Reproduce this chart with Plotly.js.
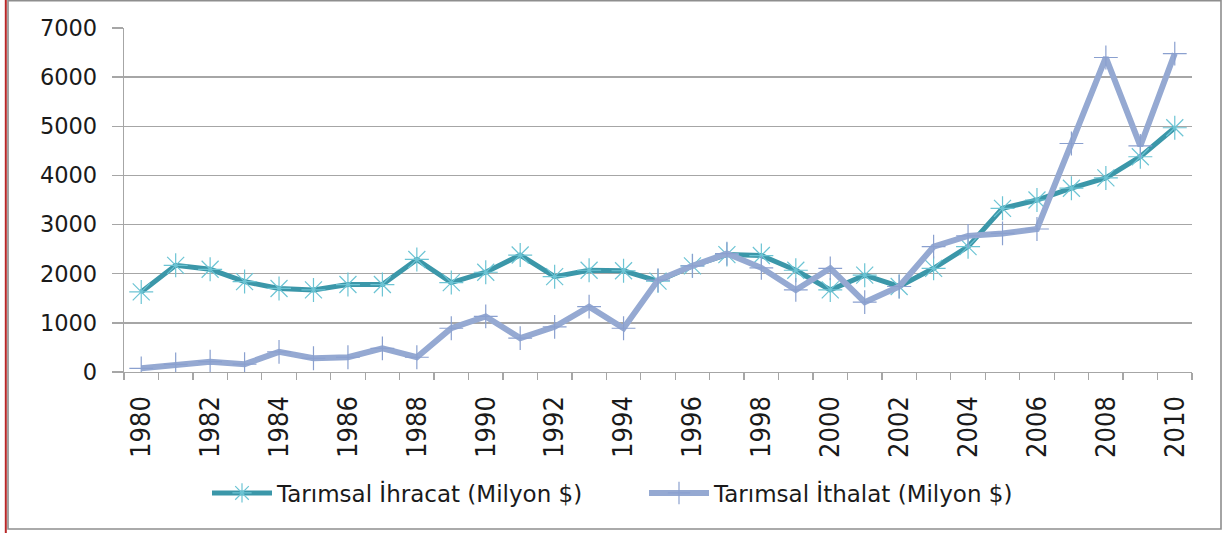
<!DOCTYPE html>
<html>
<head>
<meta charset="utf-8">
<script src="https://cdn.plot.ly/plotly-3.0.1.min.js"></script>
<style>
  html, body { margin: 0; padding: 0; background: #ffffff; }
  #chart { width: 1227px; height: 533px; }
</style>
</head>
<body>
<div id="chart"></div>
<script>
// ---- Data ----
const years = [1980, 1981, 1982, 1983, 1984, 1985, 1986, 1987, 1988, 1989,
               1990, 1991, 1992, 1993, 1994, 1995, 1996, 1997, 1998, 1999,
               2000, 2001, 2002, 2003, 2004, 2005, 2006, 2007, 2008, 2009, 2010];
const exportsMillion = [1630, 2170, 2090, 1840, 1700, 1670, 1780, 1780, 2290, 1820,
                        2030, 2380, 1940, 2070, 2060, 1850, 2160, 2390, 2370, 2070,
                        1670, 1970, 1740, 2110, 2550, 3330, 3500, 3740, 3950, 4380, 4970];
const importsMillion = [75, 155, 210, 160, 410, 280, 300, 480, 300, 890,
                        1130, 690, 920, 1330, 890, 1870, 2160, 2410, 2120, 1670,
                        2110, 1420, 1740, 2550, 2770, 2820, 2910, 4650, 6400, 4600, 6480];
const xTickYears = [1980, 1982, 1984, 1986, 1988, 1990, 1992, 1994, 1996, 1998,
                    2000, 2002, 2004, 2006, 2008, 2010];
const yTicks = [0, 1000, 2000, 3000, 4000, 5000, 6000, 7000];
const seriesNames = ['Tarımsal İhracat (Milyon $)', 'Tarımsal İthalat (Milyon $)'];

// ---- Layout constants ----
const W = 1227, H = 533;
const M = { l: 124, r: 35, t: 28, b: 161 };
const PW = W - M.l - M.r, PH = H - M.t - M.b;
const px2x = p => (p - M.l) / PW;
const py2y = p => (H - M.b - p) / PH;
const grid = '#a6a6a6';

const traces = [
  {
    x: years, y: exportsMillion, name: seriesNames[0],
    type: 'scatter', mode: 'lines+markers',
    line: { color: '#3b97a9', width: 5 },
    marker: { symbol: 'asterisk-open', size: 20, color: '#6cc4d4', line: { width: 1.2, color: '#6cc4d4' } }
  },
  {
    x: years, y: importsMillion, name: seriesNames[1],
    type: 'scatter', mode: 'lines+markers',
    line: { color: '#95a9d2', width: 6 },
    marker: { symbol: 'cross-thin-open', size: 17, color: '#8aa0cf', line: { width: 1.2, color: '#8aa0cf' } }
  }
];

const layout = {
  width: W, height: H,
  margin: M,
  paper_bgcolor: '#ffffff', plot_bgcolor: '#ffffff',
  font: { family: 'DejaVu Sans, sans-serif', color: '#1a1a1a' },
  showlegend: true,
  legend: {
    orientation: 'h', x: px2x(207), xanchor: 'left', y: py2y(493), yanchor: 'middle',
    font: { family: 'DejaVu Sans, sans-serif', size: 23, color: '#1a1a1a' },
    itemwidth: 60, entrywidth: 362, bgcolor: 'rgba(0,0,0,0)', borderwidth: 0
  },
  xaxis: {
    type: 'linear', range: [1979.5, 2010.5],
    tickmode: 'array', tickvals: xTickYears, ticktext: xTickYears.map(String),
    tickangle: -90, ticks: '', showgrid: false, zeroline: false,
    tickfont: { family: '"Liberation Sans Narrow", "DejaVu Sans Condensed", sans-serif', size: 27, color: '#1a1a1a' },
    ticklabelstandoff: 12,
    showline: true, linecolor: grid, linewidth: 1.3,
    minor: { tickmode: 'linear', tick0: 1979.5, dtick: 1, ticks: 'outside', ticklen: 7, tickcolor: grid, tickwidth: 1.3, showgrid: false }
  },
  yaxis: {
    range: [0, 7000], tickmode: 'array', tickvals: yTicks,
    ticks: 'outside', ticklen: 11, tickcolor: grid, tickwidth: 1.3,
    showgrid: true, gridcolor: grid, gridwidth: 1.3, zeroline: false,
    showline: true, linecolor: grid, linewidth: 1.3,
    tickfont: { family: 'DejaVu Sans, sans-serif', size: 22.5, color: '#1a1a1a' },
    ticklabelstandoff: 10
  },
  shapes: [
    { type: 'rect', xref: 'paper', yref: 'paper', x0: px2x(8), x1: px2x(1221), y0: py2y(529), y1: py2y(0.8),
      line: { color: '#8e8e8e', width: 1.6 }, fillcolor: 'rgba(0,0,0,0)', layer: 'below' },
    { type: 'line', xref: 'paper', yref: 'paper', x0: px2x(5.8), x1: px2x(5.8), y0: py2y(533), y1: py2y(0),
      line: { color: '#b82828', width: 2 } }
  ]
};

Plotly.newPlot('chart', traces, layout, { displayModeBar: false, staticPlot: true });
</script>
</body>
</html>
